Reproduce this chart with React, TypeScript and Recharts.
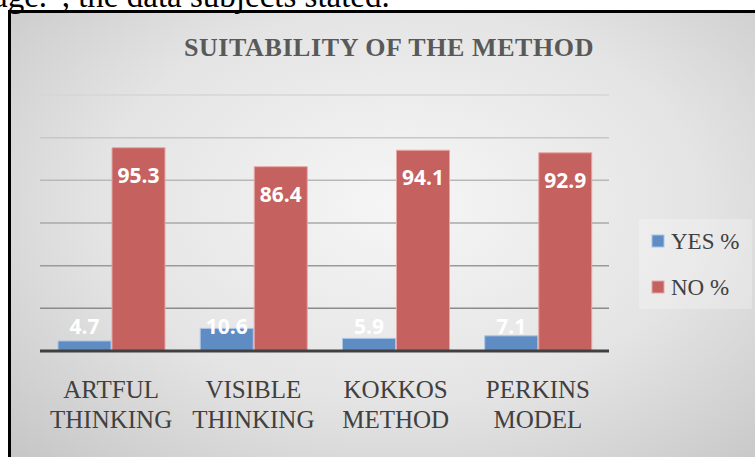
import React from "react";
import { BarChart, Bar, XAxis, YAxis, CartesianGrid, LabelList } from "recharts";

const categories = ["ARTFUL THINKING", "VISIBLE THINKING", "KOKKOS METHOD", "PERKINS MODEL"];
const yesPct = [4.7, 10.6, 5.9, 7.1];
const noPct = [95.3, 86.4, 94.1, 92.9];
const yTicks = [0, 20, 40, 60, 80, 100, 120];
const seriesNames = ["YES %", "NO %"];

const data = categories.map((name, i) => ({ name, yes: yesPct[i], no: noPct[i] }));

const SERIF = '"Liberation Serif", "Times New Roman", serif';
const SANS = '"Open Sans", "Liberation Sans", sans-serif';
const BLUE = "#5f8cc3";
const RED = "#c5625f";
const colors = [BLUE, RED];
const edges = ["#a9c4e6", "#e6a7a5"];

// two-line category labels under the axis
function CategoryTick(props: any) {
  const { x, y, payload } = props;
  const [first, ...rest] = String(payload.value).split(" ");
  return (
    <g transform={`translate(${x},${y})`}>
      <text textAnchor="middle" fontFamily={SERIF} fontSize={25} fill="#404040">
        <tspan x={0} y={47}>{first}</tspan>
        <tspan x={0} y={77}>{rest.join(" ")}</tspan>
      </text>
    </g>
  );
}

const NoLabel = (props: any) => {
  const { x, y, width, value } = props;
  return (
    <text x={x + width / 2} y={y + 35} textAnchor="middle" fill="#fff" fontFamily={SANS} fontWeight={700} fontSize={21}>
      {value}
    </text>
  );
};

const YesLabel = (props: any) => {
  const { x, y, width, height, value } = props;
  return (
    <text x={x + width / 2} y={y + height - 17} textAnchor="middle" fill="#fff" fontFamily={SANS} fontWeight={700} fontSize={21}>
      {value}
    </text>
  );
};

export default function App() {
  return (
    <div style={{ position: "absolute", left: 0, top: 0, width: 755, height: 457, overflow: "hidden", background: "#fff" }}>
      <div
        style={{
          position: "absolute",
          left: 8,
          top: 10,
          width: 780,
          height: 480,
          borderLeft: "3px solid #000",
          borderTop: "3px solid #000",
          background: "radial-gradient(ellipse 70% 75% at 50% 40%, #f6f6f6 0%, #e4e4e4 55%, #c6c6c6 100%)",
        }}
      />
      <div style={{ position: "absolute", left: 0, top: 0 }}>
        <BarChart
          width={755}
          height={457}
          data={data}
          margin={{ top: 95, right: 146, bottom: 76, left: 40 }}
          barCategoryGap={18}
          barGap={1}
        >
          <defs>
            <linearGradient id="gridGrad" gradientUnits="userSpaceOnUse" x1="0" y1="95" x2="0" y2="351">
              <stop offset="0%" stopColor="#d6d6d6" />
              <stop offset="100%" stopColor="#7c7c7c" />
            </linearGradient>
          </defs>
          <CartesianGrid vertical={false} stroke="url(#gridGrad)" strokeWidth={1.5} />
          <YAxis hide domain={[0, 120]} ticks={yTicks} />
          <XAxis
            dataKey="name"
            interval={0}
            tickLine={false}
            tickSize={0}
            tickMargin={0}
            axisLine={{ stroke: "#404040", strokeWidth: 3 }}
            tick={<CategoryTick />}
          />
          <Bar dataKey="yes" name={seriesNames[0]} fill={BLUE} stroke={edges[0]} strokeWidth={1} isAnimationActive={false}>
            <LabelList dataKey="yes" content={<YesLabel />} />
          </Bar>
          <Bar dataKey="no" name={seriesNames[1]} fill={RED} stroke={edges[1]} strokeWidth={1} isAnimationActive={false}>
            <LabelList dataKey="no" content={<NoLabel />} />
          </Bar>
        </BarChart>
      </div>
      <svg width={755} height={457} style={{ position: "absolute", left: 0, top: 0, pointerEvents: "none" }}>
        <text x={-7} y={7} fontFamily={SERIF} fontSize={33} fill="#000">
          age.”, the data subjects stated.
        </text>
        <text x={389} y={56} textAnchor="middle" fontFamily={SERIF} fontWeight={700} fontSize={26} letterSpacing={0.6} fill="#595959">
          SUITABILITY OF THE METHOD
        </text>
        <rect x={639} y={219} width={113} height={90} fill="#ffffff" fillOpacity={0.25} />
        {seriesNames.map((s, i) => (
          <g key={s}>
            <rect x={652} y={235 + i * 46} width={12} height={12} fill={colors[i]} stroke={edges[i]} />
            <text x={671} y={249 + i * 46} fontFamily={SERIF} fontSize={23} fill="#404040">
              {s}
            </text>
          </g>
        ))}
      </svg>
    </div>
  );
}
